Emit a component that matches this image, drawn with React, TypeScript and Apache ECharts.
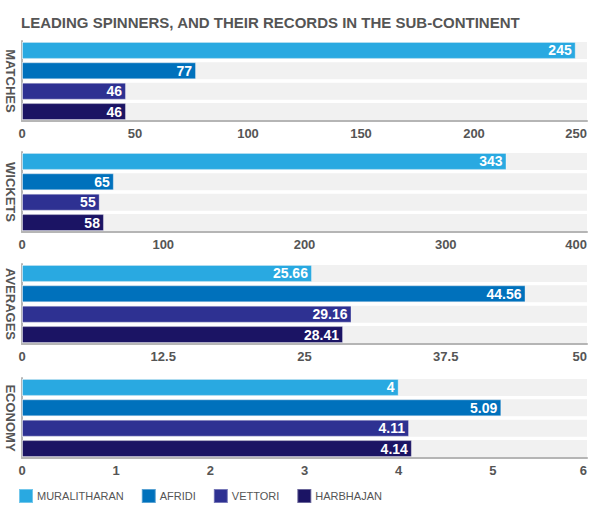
import React, { useEffect, useRef } from 'react';
import * as echarts from 'echarts';

const players = ['MURALITHARAN', 'AFRIDI', 'VETTORI', 'HARBHAJAN'];
const colors = ['#29a9e1', '#0071bc', '#2e3192', '#1b1464'];

const panels = ['MATCHES', 'WICKETS', 'AVERAGES', 'ECONOMY'];
const matches = [245, 77, 46, 46];
const wickets = [343, 65, 55, 58];
const averages = [25.66, 44.56, 29.16, 28.41];
const economy = [4, 5.09, 4.11, 4.14];
const axisMax = [250, 400, 50, 6];
const axisStep = [50, 100, 12.5, 1];

const panelValues = [matches, wickets, averages, economy];
const panelTops = [41, 152, 264, 378];

const App = () => {
  const chartRef = useRef(null);

  useEffect(() => {
    if (!chartRef.current) return;
    const chart = echarts.init(chartRef.current, null, { renderer: 'svg' });

    const font = 'Arial, "Liberation Sans", sans-serif';

    const grids = panels.map((_, i) => ({
      left: 22,
      right: 8,
      top: panelTops[i],
      height: 80,
      containLabel: false,
      outerBoundsMode: 'none',
    }));

    const xAxes = panels.map((_, i) => ({
      type: 'value',
      gridIndex: i,
      min: 0,
      max: axisMax[i],
      interval: axisStep[i],
      splitLine: { show: false },
      axisTick: { show: false },
      axisLine: { show: true, lineStyle: { color: '#b5b5b5', width: 2 } },
      axisLabel: {
        color: '#555',
        fontSize: 13,
        fontWeight: 'bold',
        fontFamily: font,
        margin: 6,
        alignMaxLabel: 'right',
      },
    }));

    const yAxes = panels.map((name, i) => ({
      type: 'category',
      gridIndex: i,
      data: [''],
      inverse: true,
      name,
      nameLocation: 'middle',
      nameRotate: -90,
      nameGap: 12,
      nameTextStyle: {
        color: '#555',
        fontSize: 13,
        fontWeight: 'bold',
        fontFamily: font,
        align: 'center',
        verticalAlign: 'middle',
      },
      axisTick: { show: false },
      axisLabel: { show: false },
      axisLine: { show: true, lineStyle: { color: '#b5b5b5', width: 2 } },
    }));

    const series: any[] = [];
    panels.forEach((_, i) => {
      players.forEach((p, j) => {
        series.push({
          type: 'bar',
          name: p,
          xAxisIndex: i,
          yAxisIndex: i,
          data: [panelValues[i][j]],
          barWidth: 17,
          barGap: '20%',
          itemStyle: { color: colors[j], borderColor: 'rgba(255,255,255,0.35)', borderWidth: 1 },
          showBackground: true,
          backgroundStyle: { color: '#f1f1f1' },
          label: {
            show: true,
            position: 'insideRight',
            distance: 4,
            color: '#fff',
            fontSize: 14,
            fontWeight: 'bold',
            fontFamily: font,
          },
        });
      });
    });

    chart.setOption({
      animation: false,
      title: {
        text: 'LEADING SPINNERS, AND THEIR RECORDS IN THE SUB-CONTINENT',
        left: 16,
        top: 10,
        textStyle: { color: '#555', fontSize: 15, fontWeight: 'bold', fontFamily: font },
      },
      legend: {
        data: players,
        left: 18,
        top: 488,
        padding: 0,
        itemWidth: 14,
        itemHeight: 14,
        itemGap: 17,
        icon: 'rect',
        textStyle: { color: '#555', fontSize: 11, fontFamily: font, padding: [0, 0, 0, -1] },
      },
      grid: grids,
      xAxis: xAxes,
      yAxis: yAxes,
      series,
    });

    return () => {
      chart.dispose();
    };
  }, []);

  return (
    <div
      ref={chartRef}
      style={{ position: 'fixed', left: 0, top: 0, width: '595px', height: '522px', background: '#fff' }}
    />
  );
};

export default App;
